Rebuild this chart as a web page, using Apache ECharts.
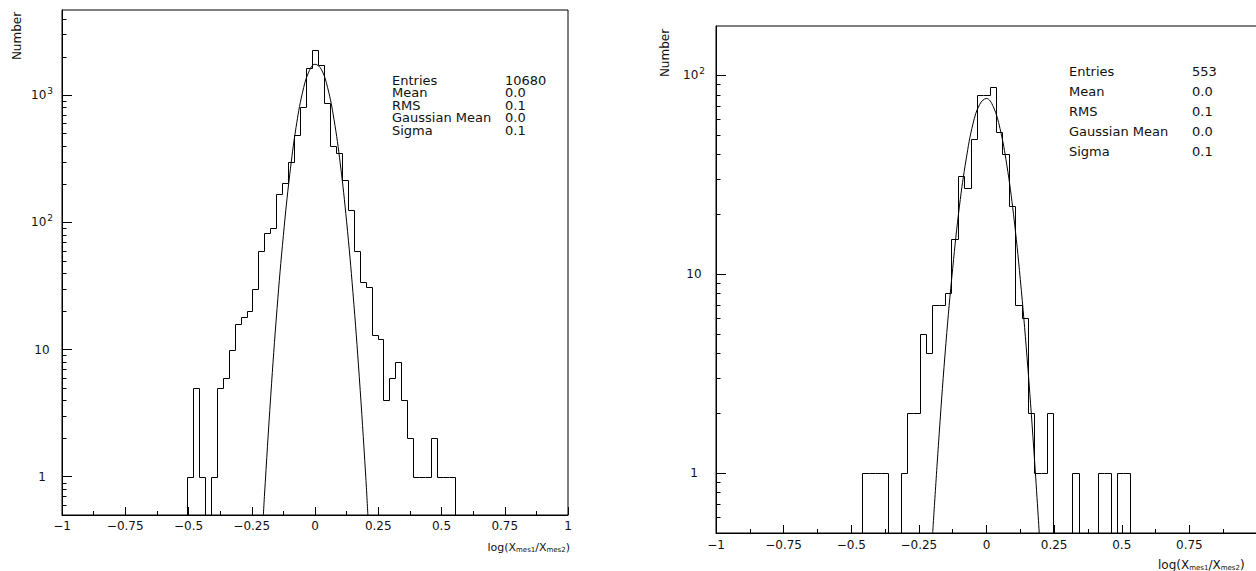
<!DOCTYPE html>
<html>
<head>
  <meta charset="utf-8">
  <title>log(Xmes1/Xmes2)</title>
  <script src="https://cdn.jsdelivr.net/npm/echarts@6.0.0/dist/echarts.min.js"></script>
  <style>
    html, body { margin: 0; padding: 0; background: #fff; }
    #main { width: 1256px; height: 571px; }
  </style>
</head>
<body>
  <div id="main"></div>
  <script>
    // histogram binning: 85 bins on [-1, 1]
    var BIN_MIN = -1, BIN_MAX = 1, N_BINS = 85;

    // left panel: counts from bin 21 on
    var leftFirstBin = 21;
    var leftCounts = [1, 5, 1, 0, 1, 5, 6, 10, 16, 18, 20, 30, 59, 83, 90, 166, 205, 298, 484, 801,
      1620, 2260, 1740, 860, 400, 350, 214, 124, 60, 34, 31, 13, 12, 4, 6, 8, 4, 2, 1, 1, 1, 2, 1, 1, 1];
    // right panel: counts from bin 23 on
    var rightFirstBin = 23;
    var rightCounts = [1, 1, 1, 1, 0, 0, 1, 2, 2, 5, 4, 7, 7, 8, 15, 31, 27, 48, 80, 80,
      87, 52, 40, 22, 7, 6, 2, 1, 1, 2, 0, 0, 0, 1, 0, 0, 0, 1, 1, 0, 1, 1];

    // gaussian fit curves
    var leftFitX = [-0.204, -0.2, -0.175, -0.15, -0.125, -0.1, -0.075, -0.05, -0.025, 0,
      0.025, 0.05, 0.075, 0.1, 0.125, 0.15, 0.175, 0.2, 0.209];
    var leftFitY = [0.5, 0.7, 4.3, 21, 79, 236, 557, 1035, 1517, 1750,
      1594, 1143, 646, 288, 101, 28, 6.1, 1.05, 0.5];
    var rightFitX = [-0.199, -0.175, -0.15, -0.125, -0.1, -0.075, -0.05, -0.025, 0,
      0.025, 0.05, 0.075, 0.1, 0.125, 0.15, 0.175, 0.195];
    var rightFitY = [0.5, 1.57, 4.5, 10.7, 22, 38, 57, 71.5, 76.5,
      69.6, 54, 35.5, 19.9, 9.4, 3.8, 1.31, 0.5];

    var leftYRange = [0.5, 4670];
    var rightYRange = [0.5, 177];

    var statNames = ['Entries', 'Mean', 'RMS', 'Gaussian Mean', 'Sigma'];
    var leftStatValues = ['10680', '0.0', '0.1', '0.0', '0.1'];
    var rightStatValues = ['553', '0.0', '0.1', '0.0', '0.1'];

    var FONT = '"DejaVu Sans", sans-serif';
    var INK = '#111';

    var chart = echarts.init(document.getElementById('main'), null, { renderer: 'svg' });

    function histItems(firstBin, counts) {
      var w = (BIN_MAX - BIN_MIN) / N_BINS;
      return counts.map(function (c, i) {
        var k = firstBin + i;
        return [BIN_MIN + k * w, BIN_MIN + (k + 1) * w, c, i > 0 ? counts[i - 1] : 0, i === counts.length - 1 ? 1 : 0];
      });
    }

    function minorTickValues(range) {
      var out = [];
      for (var e = Math.floor(Math.log10(range[0])); e <= Math.ceil(Math.log10(range[1])); e++) {
        for (var m = 2; m <= 9; m++) {
          var v = m * Math.pow(10, e);
          if (v > range[0] && v < range[1]) out.push([BIN_MIN, v]);
        }
      }
      return out;
    }

    function snap(p) {
      return [Math.round(p[0]) + 0.5, Math.round(p[1]) + 0.5];
    }

    function xFmt(v) {
      if (v === 0) return '0';
      return String(+v.toFixed(3)).replace('-', '\u2212');
    }

    function yFmt(v) {
      var e = Math.round(Math.log10(v));
      if (e === 0) return '1';
      if (e === 1) return '10';
      return '10{sup|' + e + '}';
    }

    var panels = [
      { grid: { left: 62, top: 10, width: 506, height: 505 }, yRange: leftYRange,
        first: leftFirstBin, counts: leftCounts, fitX: leftFitX, fitY: leftFitY,
        ylabelMargin: 20, xlabelMargin: 5, showMaxX: true },
      { grid: { left: 716, top: 26, width: 541, height: 507 }, yRange: rightYRange,
        first: rightFirstBin, counts: rightCounts, fitX: rightFitX, fitY: rightFitY,
        ylabelMargin: 22, xlabelMargin: 6, showMaxX: false }
    ];

    var option = {
      backgroundColor: '#fff',
      animation: false,
      grid: [],
      xAxis: [],
      yAxis: [],
      series: [],
      graphic: { elements: [] }
    };

    panels.forEach(function (p, i) {
      option.grid.push(Object.assign({
        show: true, borderColor: '#000', borderWidth: 1, containLabel: false, outerBoundsMode: 'none'
      }, p.grid));
      option.xAxis.push({
        gridIndex: i, type: 'value', min: BIN_MIN, max: BIN_MAX, interval: 0.25,
        axisLine: { onZero: false, lineStyle: { color: '#000', width: 1 } },
        axisTick: { inside: true, length: 8, lineStyle: { color: '#000' } },
        minorTick: { show: true, splitNumber: 2, length: 4, lineStyle: { color: '#000' } },
        splitLine: { show: false },
        axisLabel: { margin: p.xlabelMargin, color: INK, fontFamily: FONT, fontSize: 12,
          showMaxLabel: p.showMaxX, formatter: xFmt }
      });
      option.yAxis.push({
        gridIndex: i, type: 'log', logBase: 10, min: p.yRange[0], max: p.yRange[1],
        axisLine: { onZero: false, lineStyle: { color: '#000', width: 1 } },
        axisTick: { inside: true, length: 10, lineStyle: { color: '#000' } },
        splitLine: { show: false },
        axisLabel: {
          showMinLabel: false, showMaxLabel: false, margin: p.ylabelMargin, align: 'center',
          color: INK, fontFamily: FONT, fontSize: 12, formatter: yFmt,
          rich: { sup: { fontFamily: FONT, fontSize: 9, color: INK, padding: [0, 0, 9, 1] } }
        }
      });

      var yMin = p.yRange[0];
      // histogram outline
      option.series.push({
        type: 'custom', xAxisIndex: i, yAxisIndex: i, silent: true, clip: true,
        encode: { x: [0, 1], y: 2 },
        data: histItems(p.first, p.counts),
        renderItem: function (params, api) {
          var x0 = api.value(0), x1 = api.value(1);
          var c = Math.max(api.value(2), yMin), prev = Math.max(api.value(3), yMin);
          var pts = [snap(api.coord([x0, prev])), snap(api.coord([x0, c])), snap(api.coord([x1, c]))];
          if (api.value(4)) pts.push(snap(api.coord([x1, yMin])));
          return { type: 'polyline', shape: { points: pts },
            style: { stroke: '#000', lineWidth: 1, fill: null } };
        }
      });
      // gaussian fit
      option.series.push({
        type: 'line', xAxisIndex: i, yAxisIndex: i, silent: true, clip: true,
        smooth: 0.4, symbol: 'none',
        lineStyle: { color: '#000', width: 1 },
        data: p.fitX.map(function (x, j) { return [x, p.fitY[j]]; })
      });
      // minor log ticks (2..9 of each decade) on the y axis
      option.series.push({
        type: 'custom', xAxisIndex: i, yAxisIndex: i, silent: true, clip: false,
        data: minorTickValues(p.yRange),
        renderItem: function (params, api) {
          var q = snap(api.coord([api.value(0), api.value(1)]));
          return { type: 'line', shape: { x1: q[0], y1: q[1], x2: q[0] + 4, y2: q[1] },
            style: { stroke: '#000', lineWidth: 1 } };
        }
      });
    });

    // axis titles and statistics boxes
    var els = option.graphic.elements;
    function txt(x, y, text, size, align, extra) {
      var el = { type: 'text', x: x, y: y, silent: true,
        style: { text: text, fill: INK, font: size + 'px ' + FONT,
          align: align, textAlign: align, verticalAlign: 'middle', textVerticalAlign: 'middle' } };
      return Object.assign(el, extra || {});
    }
    var subRich = { s: { fontFamily: FONT, fontSize: 7, fill: INK, padding: [6, 0, 0, 0] } };

    els.push(txt(17, 36, 'Number', 12, 'center', { rotation: Math.PI / 2 }));
    els.push(txt(665, 53, 'Number', 12, 'center', { rotation: Math.PI / 2 }));

    var t1 = txt(570, 547, 'log(X{s|mes1}/X{s|mes2})', 11, 'right');
    t1.style.rich = subRich;
    els.push(t1);
    var t2 = txt(1158, 565, 'log(X{s|mes1}/X{s|mes2})', 12, 'left');
    t2.style.rich = subRich;
    els.push(t2);

    statNames.forEach(function (name, r) {
      els.push(txt(392, 80 + r * 12.6, name, 13, 'left'));
      els.push(txt(505, 80 + r * 12.6, leftStatValues[r], 13, 'left'));
      els.push(txt(1069, 71 + r * 20, name, 13, 'left'));
      els.push(txt(1192, 71 + r * 20, rightStatValues[r], 13, 'left'));
    });

    chart.setOption(option);
  </script>
</body>
</html>
